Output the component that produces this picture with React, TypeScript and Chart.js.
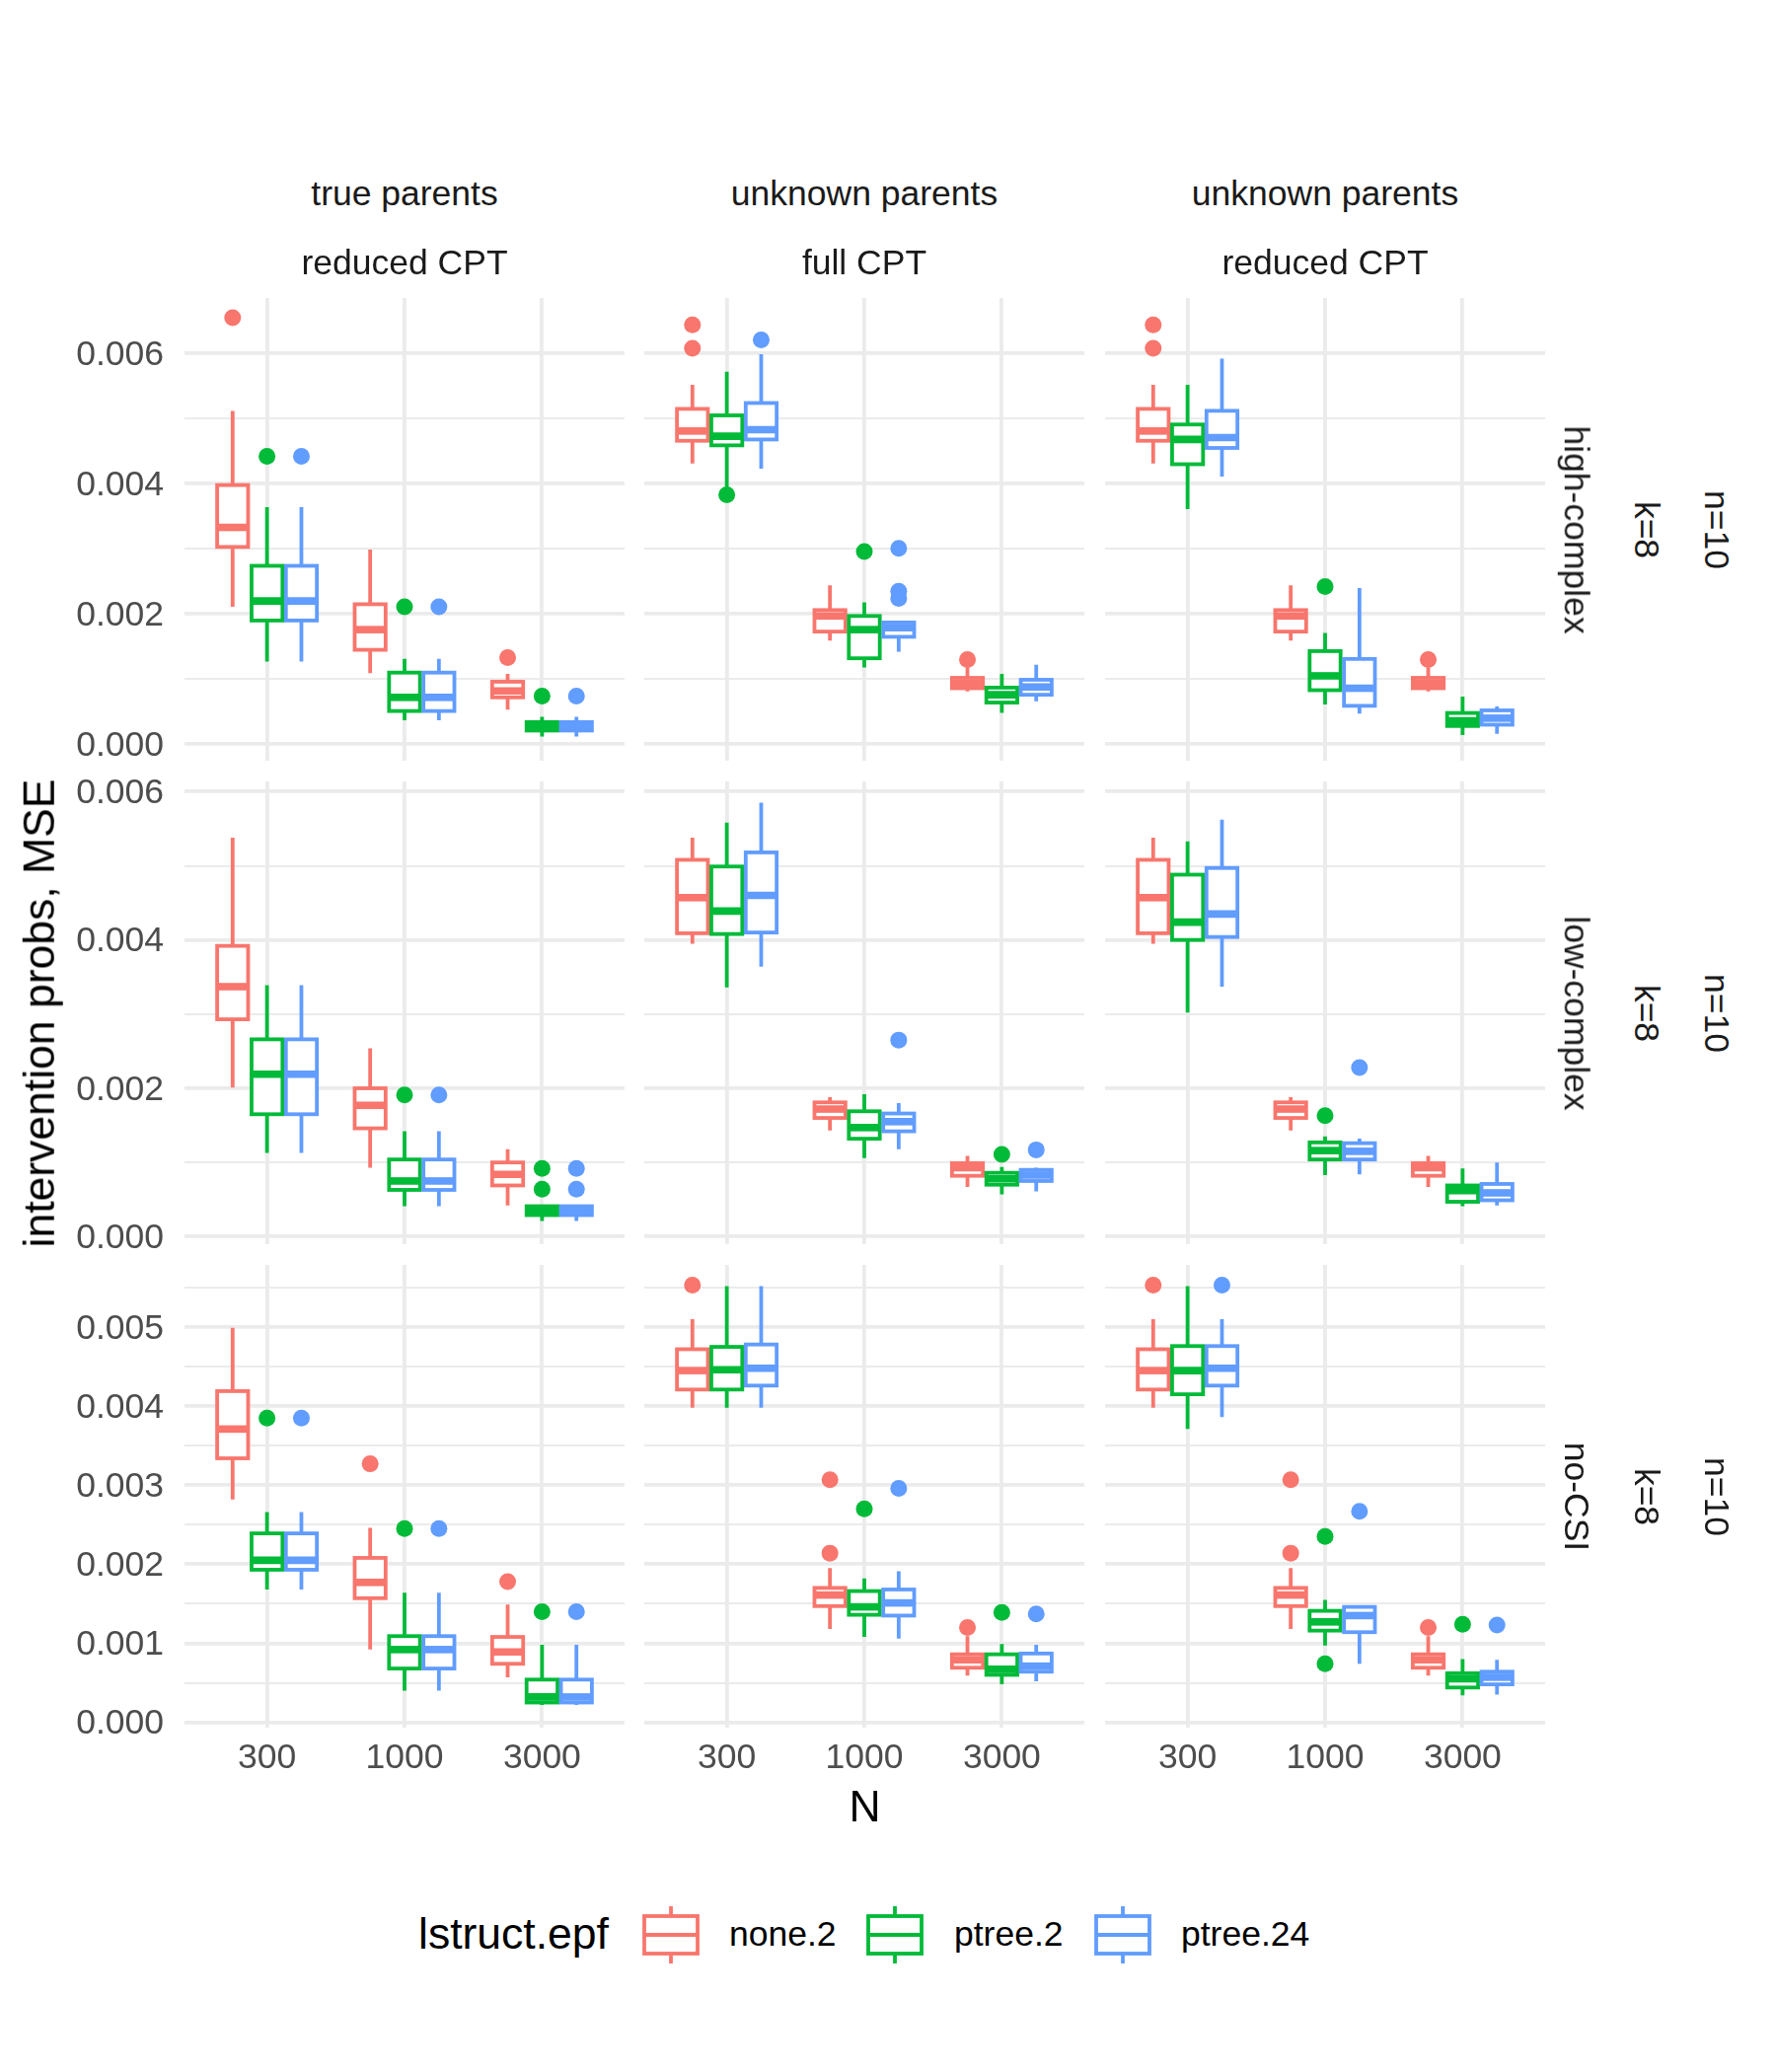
import React, { useEffect, useRef } from 'react';
import { Chart, registerables } from 'chart.js';

Chart.register(...registerables);

// ---------- categories / labels ----------
const nLabels = ['300', '1000', '3000'];
const seriesNames = ['none.2', 'ptree.2', 'ptree.24'];
const seriesColors = ['#F8766D', '#00BA38', '#619CFF'];
const colStripTop = ['true parents', 'unknown parents', 'unknown parents'];
const colStripBottom = ['reduced CPT', 'full CPT', 'reduced CPT'];
const rowStrips = ['high-complex', 'low-complex', 'no-CSI'];
const kStrip = 'k=8';
const nStrip = 'n=10';
const xTitle = 'N';
const yTitle = 'intervention probs, MSE';
const legendTitle = 'lstruct.epf';

// ---------- y ticks per row ----------
const yMajorA = [0, 0.002, 0.004, 0.006];
const yMinorA = [0.001, 0.003, 0.005];
const yMajorB = [0, 0.001, 0.002, 0.003, 0.004, 0.005];
const yMinorB = [0.0005, 0.0015, 0.0025, 0.0035, 0.0045, 0.0055];
const rowMajors = [yMajorA, yMajorA, yMajorB];
const rowMinors = [yMinorA, yMinorA, yMinorB];
const rowYMin = [-0.000253, -0.000102, -0.000068];
const rowYMax = [0.006853, 0.006137, 0.005787];

// ---------- box statistics: [lower whisker, Q1, median, Q3, upper whisker] per N ----------
// high-complex / true parents, reduced CPT
const hcTrueBoxes = [
  [[0.00211, 0.00303, 0.00333, 0.00398, 0.00512], [0.00109, 0.00145, 0.00176, 0.00215, 0.00299], [0.00053, 0.00072, 0.00082, 0.00096, 0.00108]],
  [[0.00127, 0.0019, 0.0022, 0.00274, 0.00364], [0.00037, 0.00051, 0.00072, 0.0011, 0.00131], [0.00012, 0.00021, 0.00027, 0.00034, 0.00042]],
  [[0.00127, 0.0019, 0.0022, 0.00274, 0.00364], [0.00037, 0.00051, 0.00072, 0.0011, 0.00131], [0.00012, 0.00021, 0.00027, 0.00034, 0.00042]],
];
const hcTrueOutliers = [
  [[0.00655], [], [0.00133]],
  [[0.00442], [0.00211], [0.00074]],
  [[0.00442], [0.00211], [0.00074]],
];
// high-complex / unknown parents, full CPT
const hcFullBoxes = [
  [[0.00431, 0.00466, 0.00481, 0.00515, 0.00552], [0.00159, 0.00173, 0.00197, 0.00206, 0.00244], [0.00081, 0.00086, 0.00094, 0.00102, 0.00118]],
  [[0.00395, 0.00459, 0.00473, 0.00505, 0.00572], [0.00118, 0.00132, 0.00176, 0.00197, 0.00218], [0.00048, 0.00064, 0.00076, 0.00087, 0.00108]],
  [[0.00423, 0.00468, 0.00483, 0.00524, 0.00599], [0.00142, 0.00165, 0.00179, 0.00187, 0.00187], [0.00066, 0.00076, 0.00088, 0.00099, 0.00122]],
];
const hcFullOutliers = [
  [[0.00644, 0.00608], [], [0.0013]],
  [[0.00383], [0.00296], []],
  [[0.00621], [0.00301, 0.00235, 0.00224], []],
];
// high-complex / unknown parents, reduced CPT
const hcRedBoxes = [
  [[0.00431, 0.00466, 0.00481, 0.00515, 0.00552], [0.00159, 0.00173, 0.00197, 0.00206, 0.00244], [0.00081, 0.00086, 0.00094, 0.00102, 0.00118]],
  [[0.00361, 0.0043, 0.00468, 0.00491, 0.00552], [0.00061, 0.00083, 0.00105, 0.00143, 0.00171], [0.00014, 0.00028, 0.00036, 0.00048, 0.00073]],
  [[0.00411, 0.00455, 0.00471, 0.00512, 0.00592], [0.00047, 0.00059, 0.00086, 0.00131, 0.0024], [0.00016, 0.0003, 0.0004, 0.00052, 0.00058]],
];
const hcRedOutliers = [
  [[0.00644, 0.00608], [], [0.0013]],
  [[], [0.00242], []],
  [[], [], []],
];
// low-complex / true parents, reduced CPT
const lcTrueBoxes = [
  [[0.00201, 0.00293, 0.00337, 0.00392, 0.00538], [0.00093, 0.00146, 0.00177, 0.002, 0.00254], [0.00042, 0.00069, 0.00084, 0.001, 0.00118]],
  [[0.00113, 0.00165, 0.00219, 0.00266, 0.00339], [0.00041, 0.00063, 0.00075, 0.00104, 0.00142], [0.00021, 0.00029, 0.00035, 0.00041, 0.00043]],
  [[0.00113, 0.00165, 0.00219, 0.00266, 0.00339], [0.00041, 0.00063, 0.00075, 0.00104, 0.00142], [0.00021, 0.00029, 0.00035, 0.00041, 0.00043]],
];
const lcTrueOutliers = [
  [[], [], []],
  [[], [0.00191], [0.00092, 0.00064]],
  [[], [0.00191], [0.00092, 0.00064]],
];
// low-complex / unknown parents, full CPT
const lcFullBoxes = [
  [[0.00395, 0.00409, 0.00457, 0.00508, 0.00538], [0.00143, 0.0016, 0.00172, 0.00181, 0.00188], [0.00067, 0.00082, 0.00093, 0.00099, 0.00109]],
  [[0.00336, 0.00408, 0.00439, 0.00499, 0.00558], [0.00106, 0.00132, 0.00147, 0.00169, 0.00192], [0.00057, 0.0007, 0.00078, 0.00086, 0.00094]],
  [[0.00364, 0.0041, 0.0046, 0.00518, 0.00585], [0.00118, 0.00142, 0.00155, 0.00166, 0.0018], [0.00061, 0.00075, 0.00083, 0.0009, 0.00093]],
];
const lcFullOutliers = [
  [[], [], []],
  [[], [], [0.00111]],
  [[], [0.00265], [0.00117]],
];
// low-complex / unknown parents, reduced CPT
const lcRedBoxes = [
  [[0.00395, 0.00409, 0.00457, 0.00508, 0.00538], [0.00143, 0.0016, 0.00172, 0.00181, 0.00188], [0.00067, 0.00082, 0.00093, 0.00099, 0.00109]],
  [[0.00302, 0.004, 0.00424, 0.00488, 0.00533], [0.00083, 0.00104, 0.00116, 0.00127, 0.00135], [0.00041, 0.00047, 0.00062, 0.00069, 0.00092]],
  [[0.00337, 0.00404, 0.00435, 0.00497, 0.00562], [0.00084, 0.00104, 0.00115, 0.00126, 0.00132], [0.00042, 0.00049, 0.00059, 0.00071, 0.001]],
];
const lcRedOutliers = [
  [[], [], []],
  [[], [0.00163], []],
  [[], [0.00228], []],
];
// no-CSI / true parents, reduced CPT
const ncTrueBoxes = [
  [[0.00282, 0.00334, 0.00371, 0.00419, 0.00499], [0.00092, 0.00157, 0.00177, 0.00208, 0.00246], [0.00057, 0.00074, 0.00089, 0.00108, 0.00149]],
  [[0.00168, 0.00193, 0.00205, 0.00239, 0.00266], [0.0004, 0.00068, 0.00092, 0.00109, 0.00164], [0.00022, 0.00025, 0.00032, 0.00054, 0.00098]],
  [[0.00168, 0.00193, 0.00205, 0.00239, 0.00266], [0.0004, 0.00068, 0.00092, 0.00109, 0.00164], [0.00022, 0.00025, 0.00032, 0.00054, 0.00098]],
];
const ncTrueOutliers = [
  [[], [0.00327], [0.00178]],
  [[0.00385], [0.00245], [0.0014]],
  [[0.00385], [0.00245], [0.0014]],
];
// no-CSI / unknown parents, full CPT
const ncFullBoxes = [
  [[0.00398, 0.00421, 0.00445, 0.00472, 0.0051], [0.00118, 0.00147, 0.00161, 0.0017, 0.00195], [0.00059, 0.00069, 0.00079, 0.00086, 0.00109]],
  [[0.00398, 0.00421, 0.00446, 0.00475, 0.00552], [0.00108, 0.00136, 0.00146, 0.00166, 0.00182], [0.00048, 0.0006, 0.00067, 0.00086, 0.00099]],
  [[0.00398, 0.00426, 0.00448, 0.00478, 0.00552], [0.00106, 0.00135, 0.00151, 0.00168, 0.00191], [0.00052, 0.00064, 0.00071, 0.00087, 0.00098]],
];
const ncFullOutliers = [
  [[0.00553], [0.00307, 0.00214], [0.0012]],
  [[], [0.0027], [0.00139]],
  [[], [0.00296], [0.00137]],
];
// no-CSI / unknown parents, reduced CPT
const ncRedBoxes = [
  [[0.00398, 0.00421, 0.00445, 0.00472, 0.0051], [0.00118, 0.00147, 0.00161, 0.0017, 0.00195], [0.00059, 0.00069, 0.00079, 0.00086, 0.00109]],
  [[0.00371, 0.00415, 0.00445, 0.00476, 0.00552], [0.00097, 0.00116, 0.00127, 0.00141, 0.00155], [0.00034, 0.00044, 0.00055, 0.00062, 0.0008]],
  [[0.00386, 0.00426, 0.00448, 0.00476, 0.0051], [0.00074, 0.00114, 0.00135, 0.00146, 0.00146], [0.00035, 0.00048, 0.00057, 0.00064, 0.00079]],
];
const ncRedOutliers = [
  [[0.00553], [0.00307, 0.00214], [0.0012]],
  [[], [0.00235, 0.00074], [0.00124]],
  [[0.00553], [0.00267], [0.00123]],
];

const panelBoxes = [
  [hcTrueBoxes, hcFullBoxes, hcRedBoxes],
  [lcTrueBoxes, lcFullBoxes, lcRedBoxes],
  [ncTrueBoxes, ncFullBoxes, ncRedBoxes],
];
const panelOutliers = [
  [hcTrueOutliers, hcFullOutliers, hcRedOutliers],
  [lcTrueOutliers, lcFullOutliers, lcRedOutliers],
  [ncTrueOutliers, ncFullOutliers, ncRedOutliers],
];

// ---------- layout ----------
const FONT = '"Liberation Sans", Arial, Helvetica, sans-serif';
const colLeft = [187, 653, 1120];
const rowTop = [302, 792, 1282];
const PW = 446;
const PH = 469;
const PAD_L = 130;
const PAD_T = 60;
const PAD_R = 30;
const PAD_B = 80;
const DODGE = 0.25;
const BOX_HALF = 0.1125;
const LINE_W = 3.8;
const GRID_W = 3.8;
const GRID = '#EBEBEB';
const SMALL = 35.5;
const BIG = 44.5;

const near = (a: number, b: number) => Math.abs(a - b) < 1e-9;

function makeBoxPlugin(boxes: number[][][]) {
  return {
    id: 'boxplots',
    beforeDatasetsDraw(chart: any) {
      const { ctx, scales } = chart;
      const xs = scales.x;
      const ys = scales.y;
      const area = chart.chartArea;
      ctx.save();
      ctx.beginPath();
      ctx.rect(area.left, area.top, area.right - area.left, area.bottom - area.top);
      ctx.clip();
      ctx.lineJoin = 'miter';
      ctx.lineCap = 'butt';
      for (let i = 0; i < nLabels.length; i++) {
        for (let s = 0; s < seriesNames.length; s++) {
          const [lo, q1, med, q3, hi] = boxes[s][i];
          const xc = i + 1 + (s - 1) * DODGE;
          const px = xs.getPixelForValue(xc);
          const x0 = xs.getPixelForValue(xc - BOX_HALF);
          const x1 = xs.getPixelForValue(xc + BOX_HALF);
          const yLo = ys.getPixelForValue(lo);
          const yQ1 = ys.getPixelForValue(q1);
          const yMed = ys.getPixelForValue(med);
          const yQ3 = ys.getPixelForValue(q3);
          const yHi = ys.getPixelForValue(hi);
          ctx.strokeStyle = seriesColors[s];
          ctx.lineWidth = LINE_W;
          ctx.beginPath();
          ctx.moveTo(px, yHi);
          ctx.lineTo(px, yQ3);
          ctx.moveTo(px, yQ1);
          ctx.lineTo(px, yLo);
          ctx.stroke();
          ctx.fillStyle = '#FFFFFF';
          ctx.fillRect(x0, yQ3, x1 - x0, yQ1 - yQ3);
          ctx.strokeRect(x0, yQ3, x1 - x0, yQ1 - yQ3);
          ctx.lineWidth = LINE_W * 2;
          ctx.beginPath();
          ctx.moveTo(x0, yMed);
          ctx.lineTo(x1, yMed);
          ctx.stroke();
        }
      }
      ctx.restore();
    },
  };
}

function Panel({ r, c }: { r: number; c: number }) {
  const ref = useRef<HTMLCanvasElement | null>(null);
  const cw = PAD_L + PW + PAD_R;
  const ch = PAD_T + PH + PAD_B;
  useEffect(() => {
    if (!ref.current) return;
    const boxes = panelBoxes[r][c];
    const outs = panelOutliers[r][c];
    const majors = rowMajors[r];
    const allTicks = [...majors, ...rowMinors[r]].sort((a, b) => a - b);
    const datasets = seriesNames.map((name, s) => ({
      label: name,
      data: outs[s].flatMap((vals, i) => vals.map((v) => ({ x: i + 1 + (s - 1) * DODGE, y: v }))),
      backgroundColor: seriesColors[s],
      borderColor: seriesColors[s],
      borderWidth: 0,
      pointRadius: 8.5,
      pointHoverRadius: 8.5,
    }));
    const tickFont = { family: FONT, size: SMALL };
    const chart = new Chart(ref.current, {
      type: 'scatter',
      data: { datasets },
      options: {
        animation: false,
        responsive: false,
        maintainAspectRatio: false,
        devicePixelRatio: 1,
        events: [],
        layout: {
          padding: {
            left: c === 0 ? 0 : PAD_L,
            top: PAD_T,
            right: PAD_R,
            bottom: r === 2 ? 0 : PAD_B,
          },
        },
        plugins: { legend: { display: false }, tooltip: { enabled: false } },
        scales: {
          x: {
            type: 'linear',
            min: 0.4,
            max: 3.6,
            afterBuildTicks: (scale: any) => {
              scale.ticks = nLabels.map((_, i) => ({ value: i + 1 }));
            },
            afterFit: (scale: any) => {
              scale.height = r === 2 ? PAD_B : 0;
            },
            grid: { color: GRID, lineWidth: GRID_W, drawTicks: false },
            border: { display: false },
            ticks: {
              display: r === 2,
              autoSkip: false,
              maxRotation: 0,
              minRotation: 0,
              padding: 10,
              color: '#4D4D4D',
              font: tickFont,
              callback: (v: any) => nLabels[Math.round(Number(v)) - 1] ?? '',
            },
          },
          y: {
            type: 'linear',
            min: rowYMin[r],
            max: rowYMax[r],
            afterBuildTicks: (scale: any) => {
              scale.ticks = allTicks.map((v) => ({ value: v }));
            },
            afterFit: (scale: any) => {
              scale.width = c === 0 ? PAD_L : 0;
            },
            grid: {
              color: GRID,
              drawTicks: false,
              lineWidth: (ctx: any) => {
                const v = ctx.tick ? ctx.tick.value : 0;
                return majors.some((m) => near(m, v)) ? GRID_W : GRID_W / 2;
              },
            },
            border: { display: false },
            ticks: {
              display: c === 0,
              autoSkip: false,
              padding: 21,
              labelOffset: 2,
              color: '#4D4D4D',
              font: tickFont,
              callback: (v: any) => (majors.some((m) => near(m, Number(v))) ? Number(v).toFixed(3) : ''),
            },
          },
        },
      } as any,
      plugins: [makeBoxPlugin(boxes) as any],
    });
    return () => chart.destroy();
  }, [r, c]);
  return (
    <canvas
      ref={ref}
      width={cw}
      height={ch}
      style={{
        position: 'absolute',
        left: colLeft[c] - PAD_L,
        top: rowTop[r] - PAD_T,
        width: cw,
        height: ch,
      }}
    />
  );
}

function CenterText({ x, y, size, color, rotate = 0, children }: any) {
  return (
    <div style={{ position: 'absolute', left: x, top: y, width: 0, height: 0 }}>
      <div
        style={{
          position: 'absolute',
          left: 0,
          top: 0,
          transform: `translate(-50%, -50%) rotate(${rotate}deg)`,
          whiteSpace: 'nowrap',
          fontSize: size,
          lineHeight: `${size}px`,
          color,
          fontFamily: FONT,
        }}
      >
        {children}
      </div>
    </div>
  );
}

function LeftText({ x, y, size, color, children }: any) {
  return (
    <div
      style={{
        position: 'absolute',
        left: x,
        top: y - size / 2,
        whiteSpace: 'nowrap',
        fontSize: size,
        lineHeight: `${size}px`,
        color,
        fontFamily: FONT,
      }}
    >
      {children}
    </div>
  );
}

function LegendKey({ x, y, color }: { x: number; y: number; color: string }) {
  return (
    <svg
      width={58}
      height={58}
      style={{ position: 'absolute', left: x, top: y }}
      viewBox="0 0 58 58"
    >
      <line x1={29} y1={0} x2={29} y2={10} stroke={color} strokeWidth={LINE_W} />
      <line x1={29} y1={48} x2={29} y2={58} stroke={color} strokeWidth={LINE_W} />
      <rect x={2} y={10} width={54} height={38} fill="#FFFFFF" stroke={color} strokeWidth={LINE_W} />
      <line x1={2} y1={29} x2={56} y2={29} stroke={color} strokeWidth={LINE_W} />
    </svg>
  );
}

export default function App() {
  const panels = [];
  for (let r = 0; r < 3; r++) for (let c = 0; c < 3; c++) panels.push(<Panel key={`${r}-${c}`} r={r} c={c} />);
  const legendKeysX = [651, 878, 1109];
  const legendLabelsX = [739, 967, 1197];
  const legendY = 1960.5;
  return (
    <div
      style={{
        position: 'absolute',
        left: 0,
        top: 0,
        width: 1800,
        height: 2100,
        background: '#FFFFFF',
        overflow: 'hidden',
        fontFamily: FONT,
      }}
    >
      {panels}
      {colStripTop.map((t, c) => (
        <CenterText key={`st${c}`} x={colLeft[c] + PW / 2} y={196.5} size={SMALL} color="#1A1A1A">
          {t}
        </CenterText>
      ))}
      {colStripBottom.map((t, c) => (
        <CenterText key={`sb${c}`} x={colLeft[c] + PW / 2} y={266.5} size={SMALL} color="#1A1A1A">
          {t}
        </CenterText>
      ))}
      {rowStrips.map((t, r) => (
        <React.Fragment key={`rs${r}`}>
          <CenterText x={1597} y={rowTop[r] + PH / 2} size={SMALL} color="#1A1A1A" rotate={90}>
            {t}
          </CenterText>
          <CenterText x={1668} y={rowTop[r] + PH / 2} size={SMALL} color="#1A1A1A" rotate={90}>
            {kStrip}
          </CenterText>
          <CenterText x={1739} y={rowTop[r] + PH / 2} size={SMALL} color="#1A1A1A" rotate={90}>
            {nStrip}
          </CenterText>
        </React.Fragment>
      ))}
      <CenterText x={40} y={(rowTop[0] + rowTop[2] + PH) / 2} size={BIG} color="#000000" rotate={-90}>
        {yTitle}
      </CenterText>
      <CenterText x={(colLeft[0] + colLeft[2] + PW) / 2} y={1830.8} size={BIG} color="#000000">
        {xTitle}
      </CenterText>
      <LeftText x={424} y={legendY} size={BIG} color="#000000">
        {legendTitle}
      </LeftText>
      {seriesNames.map((name, s) => (
        <React.Fragment key={`lg${s}`}>
          <LegendKey x={legendKeysX[s]} y={1932} color={seriesColors[s]} />
          <LeftText x={legendLabelsX[s]} y={legendY} size={SMALL} color="#000000">
            {name}
          </LeftText>
        </React.Fragment>
      ))}
    </div>
  );
}
